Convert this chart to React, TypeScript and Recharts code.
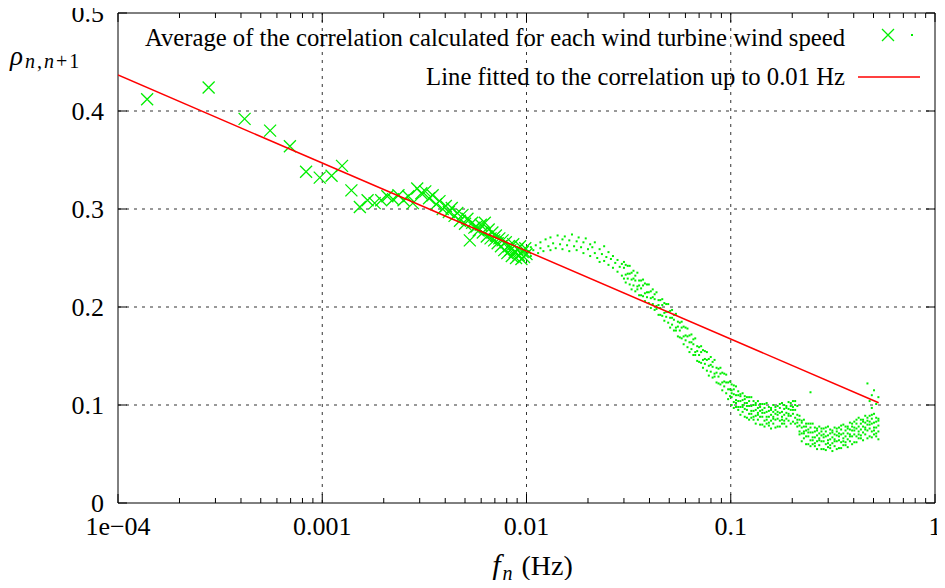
import React from 'react';
import { ScatterChart, Scatter, XAxis, YAxis, ReferenceLine, ReferenceArea, Legend } from 'recharts';

// f_n in Hz for the averaged harmonics (crosses), up to 0.01 Hz
const CROSS_F = [
  0.0001389, 0.0002778, 0.0004167, 0.0005556, 0.0006944, 0.0008333, 0.0009722, 0.001111, 0.00125, 0.001389,
  0.001528, 0.001667, 0.001806, 0.001944, 0.002083, 0.002222, 0.002361, 0.0025, 0.002639, 0.002778,
  0.002917, 0.003056, 0.003194, 0.003333, 0.003472, 0.003611, 0.00375, 0.003889, 0.004028, 0.004167,
  0.004306, 0.004444, 0.004583, 0.004722, 0.004861, 0.005, 0.005139, 0.005278, 0.005417, 0.005556,
  0.005694, 0.005833, 0.005972, 0.006111, 0.00625, 0.006389, 0.006528, 0.006667, 0.006806, 0.006944,
  0.007083, 0.007222, 0.007361, 0.0075, 0.007639, 0.007778, 0.007917, 0.008056, 0.008194, 0.008333,
  0.008472, 0.008611, 0.00875, 0.008889, 0.009028, 0.009167, 0.009306, 0.009444, 0.009583, 0.009722,
  0.009861, 0.01,
];
const CROSS_RHO = [
  0.412, 0.424, 0.392, 0.380, 0.364, 0.338, 0.332, 0.334, 0.344, 0.319,
  0.302, 0.309, 0.306, 0.309, 0.313, 0.310, 0.314, 0.309, 0.313, 0.306,
  0.321, 0.316, 0.318, 0.311, 0.314, 0.305, 0.308, 0.300, 0.303, 0.297,
  0.301, 0.293, 0.296, 0.288, 0.294, 0.285, 0.290, 0.268, 0.286, 0.281,
  0.282, 0.278, 0.284, 0.276, 0.286, 0.272, 0.279, 0.270, 0.276, 0.268,
  0.273, 0.265, 0.270, 0.262, 0.268, 0.258, 0.266, 0.255, 0.262, 0.258,
  0.252, 0.264, 0.256, 0.250, 0.259, 0.253, 0.262, 0.249, 0.256, 0.251,
  0.260, 0.254,
];

// per-frequency correlation (dots): [f, rho values read around that f]
const DOT_ROWS: number[][] = [
  [0.0102, 0.257], [0.0105, 0.252, 0.261], [0.0108, 0.258], [0.0111, 0.263], [0.0114, 0.255],
  [0.0117, 0.260, 0.266], [0.0121, 0.257], [0.0124, 0.269], [0.0128, 0.262], [0.0131, 0.258, 0.271],
  [0.0135, 0.265], [0.0139, 0.260], [0.0142, 0.273], [0.0146, 0.264], [0.015, 0.259, 0.269],
  [0.0154, 0.272], [0.0158, 0.263], [0.0162, 0.268, 0.257], [0.0167, 0.274], [0.0171, 0.262],
  [0.0176, 0.267, 0.258], [0.018, 0.271], [0.0185, 0.261], [0.019, 0.266, 0.255], [0.0195, 0.270],
  [0.02, 0.259], [0.0205, 0.264, 0.252], [0.021, 0.261], [0.0216, 0.255, 0.266], [0.0222, 0.250],
  [0.0228, 0.259, 0.246], [0.0234, 0.254], [0.024, 0.262, 0.247], [0.0246, 0.251], [0.0252, 0.243, 0.256],
  [0.0259, 0.249], [0.0265, 0.240, 0.252], [0.0272, 0.245], [0.0279, 0.236, 0.248], [0.0286, 0.241],
  [0.0293, 0.232, 0.244],
  [0.0300, 0.240, 0.229, 0.246], [0.0306, 0.233, 0.243, 0.225], [0.0313, 0.242, 0.229, 0.234],
  [0.0320, 0.223, 0.234, 0.242], [0.0327, 0.235, 0.218, 0.228], [0.0334, 0.222, 0.237, 0.229],
  [0.0341, 0.227, 0.216, 0.232], [0.0349, 0.235, 0.221, 0.218], [0.0356, 0.212, 0.227, 0.222],
  [0.0364, 0.227, 0.219, 0.212], [0.0372, 0.222, 0.211, 0.228], [0.0380, 0.214, 0.224, 0.206],
  [0.0389, 0.223, 0.210, 0.215], [0.0397, 0.204, 0.215, 0.223], [0.0406, 0.216, 0.199, 0.209],
  [0.0415, 0.203, 0.218, 0.210], [0.0424, 0.208, 0.197, 0.213], [0.0433, 0.215, 0.201, 0.198],
  [0.0443, 0.192, 0.207, 0.202], [0.0452, 0.207, 0.199, 0.192], [0.0462, 0.202, 0.191, 0.208],
  [0.0473, 0.194, 0.204, 0.186], [0.0483, 0.203, 0.190, 0.195], [0.0494, 0.184, 0.195, 0.203],
  [0.0505, 0.196, 0.179, 0.189], [0.0516, 0.182, 0.197, 0.189], [0.0527, 0.187, 0.176, 0.192],
  [0.0539, 0.193, 0.179, 0.176], [0.0551, 0.170, 0.185, 0.180], [0.0563, 0.184, 0.176, 0.169],
  [0.0575, 0.179, 0.168, 0.185], [0.0588, 0.170, 0.180, 0.162], [0.0601, 0.179, 0.166, 0.171],
  [0.0614, 0.159, 0.170, 0.178], [0.0628, 0.171, 0.154, 0.164], [0.0642, 0.157, 0.172, 0.164],
  [0.0656, 0.162, 0.151, 0.167], [0.0670, 0.168, 0.154, 0.151], [0.0685, 0.145, 0.160, 0.155],
  [0.0700, 0.159, 0.151, 0.144], [0.0716, 0.154, 0.143, 0.160], [0.0731, 0.146, 0.156, 0.138],
  [0.0747, 0.155, 0.142, 0.147], [0.0764, 0.135, 0.146, 0.154], [0.0781, 0.147, 0.130, 0.140],
  [0.0798, 0.134, 0.149, 0.141], [0.0815, 0.139, 0.128, 0.144], [0.0833, 0.146, 0.132, 0.129],
  [0.0852, 0.123, 0.138, 0.133], [0.0871, 0.137, 0.129, 0.122], [0.0890, 0.132, 0.121, 0.138],
  [0.0909, 0.123, 0.133, 0.115], [0.0929, 0.132, 0.119, 0.124], [0.0950, 0.112, 0.123, 0.131],
  [0.0971, 0.123, 0.106, 0.116], [0.0992, 0.109, 0.124, 0.116],
  [0.1010, 0.121, 0.108, 0.115, 0.100, 0.112], [0.1035, 0.103, 0.116, 0.097, 0.111, 0.120],
  [0.1061, 0.110, 0.098, 0.119, 0.105, 0.102], [0.1088, 0.095, 0.110, 0.104, 0.114, 0.098],
  [0.1115, 0.111, 0.098, 0.104, 0.090, 0.109], [0.1143, 0.098, 0.112, 0.093, 0.105, 0.100],
  [0.1171, 0.106, 0.088, 0.109, 0.096, 0.102], [0.1200, 0.108, 0.095, 0.102, 0.087, 0.099],
  [0.1230, 0.091, 0.104, 0.085, 0.099, 0.108], [0.1261, 0.099, 0.087, 0.108, 0.094, 0.091],
  [0.1293, 0.085, 0.100, 0.094, 0.104, 0.088], [0.1325, 0.102, 0.089, 0.095, 0.081, 0.100],
  [0.1358, 0.090, 0.104, 0.085, 0.097, 0.092], [0.1392, 0.098, 0.080, 0.101, 0.088, 0.094],
  [0.1427, 0.101, 0.088, 0.095, 0.080, 0.092], [0.1463, 0.084, 0.097, 0.078, 0.092, 0.101],
  [0.1499, 0.093, 0.081, 0.102, 0.088, 0.085], [0.1537, 0.079, 0.094, 0.088, 0.098, 0.082],
  [0.1575, 0.097, 0.084, 0.090, 0.076, 0.095], [0.1615, 0.086, 0.100, 0.081, 0.093, 0.088],
  [0.1655, 0.095, 0.077, 0.098, 0.085, 0.091], [0.1696, 0.099, 0.086, 0.093, 0.078, 0.090],
  [0.1739, 0.084, 0.097, 0.078, 0.092, 0.101], [0.1782, 0.093, 0.081, 0.102, 0.088, 0.085],
  [0.1827, 0.081, 0.096, 0.090, 0.100, 0.084], [0.1872, 0.099, 0.086, 0.092, 0.078, 0.097],
  [0.1919, 0.089, 0.103, 0.084, 0.096, 0.091], [0.1967, 0.099, 0.081, 0.102, 0.089, 0.095],
  [0.2016, 0.104, 0.091, 0.098, 0.083, 0.095], [0.2067, 0.087, 0.100, 0.081, 0.095, 0.104],
  [0.2118, 0.090, 0.078, 0.099, 0.085, 0.082], [0.2171, 0.070, 0.085, 0.079, 0.089, 0.073],
  [0.2226, 0.084, 0.071, 0.077, 0.063, 0.082], [0.2281, 0.071, 0.085, 0.066, 0.078, 0.073],
  [0.2338, 0.078, 0.060, 0.081, 0.068, 0.074], [0.2397, 0.081, 0.068, 0.075, 0.060, 0.072],
  [0.2457, 0.064, 0.077, 0.058, 0.072, 0.081, 0.113], [0.2518, 0.072, 0.060, 0.081, 0.067, 0.064],
  [0.2581, 0.058, 0.073, 0.067, 0.077, 0.061], [0.2646, 0.076, 0.063, 0.069, 0.055, 0.074],
  [0.2712, 0.064, 0.078, 0.059, 0.071, 0.066], [0.2780, 0.073, 0.055, 0.076, 0.063, 0.069],
  [0.2849, 0.076, 0.063, 0.070, 0.055, 0.067], [0.2920, 0.060, 0.073, 0.054, 0.068, 0.077],
  [0.2993, 0.069, 0.057, 0.078, 0.064, 0.061], [0.3068, 0.056, 0.071, 0.065, 0.075, 0.059],
  [0.3145, 0.074, 0.061, 0.067, 0.053, 0.072], [0.3224, 0.063, 0.077, 0.058, 0.070, 0.065],
  [0.3304, 0.073, 0.055, 0.076, 0.063, 0.069], [0.3387, 0.077, 0.064, 0.071, 0.056, 0.068],
  [0.3471, 0.062, 0.075, 0.056, 0.070, 0.079], [0.3558, 0.071, 0.059, 0.080, 0.066, 0.063],
  [0.3647, 0.059, 0.074, 0.068, 0.078, 0.062], [0.3738, 0.078, 0.065, 0.071, 0.057, 0.076],
  [0.3832, 0.068, 0.082, 0.063, 0.075, 0.070], [0.3928, 0.078, 0.060, 0.081, 0.068, 0.074],
  [0.4026, 0.083, 0.070, 0.077, 0.062, 0.074], [0.4126, 0.068, 0.081, 0.062, 0.076, 0.085],
  [0.4229, 0.078, 0.066, 0.087, 0.073, 0.070], [0.4335, 0.066, 0.081, 0.075, 0.085, 0.069],
  [0.4444, 0.085, 0.072, 0.078, 0.064, 0.083], [0.4555, 0.075, 0.089, 0.070, 0.082, 0.077],
  [0.4669, 0.084, 0.066, 0.087, 0.074, 0.080, 0.122], [0.4786, 0.089, 0.076, 0.083, 0.068, 0.080, 0.104],
  [0.4905, 0.073, 0.086, 0.067, 0.081, 0.090, 0.110, 0.097], [0.5028, 0.082, 0.070, 0.091, 0.077, 0.074, 0.115],
  [0.5154, 0.068, 0.083, 0.077, 0.087, 0.071, 0.101], [0.5283, 0.086, 0.073, 0.079, 0.065, 0.084, 0.108],
];

// least-squares line fitted up to 0.01 Hz, drawn across the data range
const FIT_F = [0.0001, 0.53];
const FIT_RHO = [0.4367, 0.1023];

const X_MAJOR = [0.0001, 0.001, 0.01, 0.1, 1];
const X_LABELS = ['1e\u221204', '0.001', '0.01', '0.1', '1'];
const X_MINOR = [
  0.0002, 0.0003, 0.0004, 0.0005, 0.0006, 0.0007, 0.0008, 0.0009,
  0.002, 0.003, 0.004, 0.005, 0.006, 0.007, 0.008, 0.009,
  0.02, 0.03, 0.04, 0.05, 0.06, 0.07, 0.08, 0.09,
  0.2, 0.3, 0.4, 0.5, 0.6, 0.7, 0.8, 0.9,
];
const Y_TICKS = [0, 0.1, 0.2, 0.3, 0.4, 0.5];

const LEGEND_DOTS = 'Average of the correlation calculated for each wind turbine wind speed';
const LEGEND_FIT = 'Line fitted to the correlation up to 0.01 Hz';

const FONT = '"Liberation Serif", "Times New Roman", serif';
const GREEN = '#00ee00';
const RED = '#ff0000';
const W = 945;
const H = 588;
const PL = 118;
const PW = 817;
const PH = 490;

const crossData = CROSS_F.map((f, i) => ({ f, v: CROSS_RHO[i] }));
const dotData = DOT_ROWS.flatMap(([f, ...vals]) => vals.map(v => ({ f, v })));
const fitData = FIT_F.map((f, i) => ({ f, v: FIT_RHO[i] }));

const CrossShape = (p: any) => {
  const { cx, cy } = p;
  const s = 6;
  return (
    <path
      d={`M${cx - s},${cy - s}L${cx + s},${cy + s}M${cx - s},${cy + s}L${cx + s},${cy - s}`}
      stroke={GREEN}
      strokeWidth={1.3}
      fill="none"
    />
  );
};

const DotShape = (p: any) => <rect x={p.cx - 1} y={p.cy - 1} width={2} height={2} fill={GREEN} />;

const NoShape = () => <g />;

function XTick(props: any) {
  const { x, y, payload } = props;
  const idx = X_MAJOR.indexOf(payload.value);
  const len = idx >= 0 ? 9 : 5;
  return (
    <g>
      <line x1={x} y1={y} x2={x} y2={y - len} stroke="#000" />
      <line x1={x} y1={y - PH} x2={x} y2={y - PH + len} stroke="#000" />
      {idx >= 0 && (
        <text x={x} y={y + 32} textAnchor="middle" fontSize={26} fontFamily={FONT} fill="#000">
          {X_LABELS[idx]}
        </text>
      )}
    </g>
  );
}

function YTick(props: any) {
  const { x, y, payload } = props;
  return (
    <g>
      <line x1={x} y1={y} x2={x + 9} y2={y} stroke="#000" />
      <line x1={x + PW - 9} y1={y} x2={x + PW} y2={y} stroke="#000" />
      <text x={x - 14} y={y + 9} textAnchor="end" fontSize={26} fontFamily={FONT} fill="#000">
        {String(payload.value)}
      </text>
    </g>
  );
}

function KeyBox() {
  return (
    <div style={{ position: 'relative', width: W, height: 70, fontFamily: FONT, fontSize: 24.7, color: '#000' }}>
      <div style={{ position: 'absolute', right: 100, top: 0, lineHeight: '30px', whiteSpace: 'nowrap' }}>
        {LEGEND_DOTS}
      </div>
      <div style={{ position: 'absolute', right: 100, top: 39, lineHeight: '30px', whiteSpace: 'nowrap' }}>
        {LEGEND_FIT}
      </div>
      <svg width={W} height={70} style={{ position: 'absolute', left: 0, top: 0 }}>
        <path d="M882,6L894,18M882,18L894,6" stroke={GREEN} strokeWidth={1.3} fill="none" />
        <rect x={911} y={11} width={2} height={2} fill={GREEN} />
        <line x1={858} y1={54} x2={920} y2={54} stroke={RED} strokeWidth={1.5} />
      </svg>
    </div>
  );
}

export default function App() {
  return (
    <div style={{ position: 'relative', width: W, height: H, margin: '-8px 0 -8px -8px', fontFamily: FONT }}>
      <ScatterChart width={W} height={H} margin={{ top: 13, right: 10, left: 0, bottom: 0 }}>
        <XAxis
          type="number"
          dataKey="f"
          scale="log"
          domain={[0.0001, 1]}
          allowDataOverflow
          ticks={[...X_MAJOR, ...X_MINOR]}
          interval={0}
          tick={<XTick />}
          tickLine={false}
          axisLine={false}
          tickSize={0}
          tickMargin={0}
          height={85}
        />
        <YAxis
          type="number"
          dataKey="v"
          domain={[0, 0.5]}
          ticks={Y_TICKS}
          interval={0}
          tick={<YTick />}
          tickLine={false}
          axisLine={false}
          tickSize={0}
          tickMargin={0}
          width={PL}
        />
        {X_MAJOR.slice(1, 4).map(x => (
          <ReferenceLine key={'gx' + x} x={x} stroke="#333" strokeDasharray="3 5" />
        ))}
        {Y_TICKS.slice(1, 5).map(y => (
          <ReferenceLine key={'gy' + y} y={y} stroke="#333" strokeDasharray="3 5" />
        ))}
        <ReferenceArea x1={0.0001} x2={1} y1={0} y2={0.5} fill="none" stroke="#000" strokeWidth={1} />
        <Scatter data={dotData} shape={DotShape} isAnimationActive={false} />
        <Scatter data={crossData} shape={CrossShape} isAnimationActive={false} />
        <Scatter data={fitData} shape={NoShape} line={{ stroke: RED, strokeWidth: 1.5 }} isAnimationActive={false} />
        <Legend
          layout="horizontal"
          verticalAlign="middle"
          align="center"
          content={() => <KeyBox />}
          wrapperStyle={{ top: 23, left: 0, width: W }}
        />
      </ScatterChart>
      <div style={{ position: 'absolute', left: 10, top: 41, fontSize: 27, lineHeight: '30px', whiteSpace: 'nowrap' }}>
        <i>ρ</i>
        <span style={{ fontSize: 20, letterSpacing: 2, position: 'relative', top: 3, marginLeft: 2 }}>
          <i>n</i>,<i>n</i>+1
        </span>
      </div>
      <div
        style={{
          position: 'absolute', left: PL, width: PW, top: 550, paddingLeft: 6,
          fontSize: 28, lineHeight: '30px', textAlign: 'center', whiteSpace: 'nowrap',
        }}
      >
        <i style={{ fontSize: 30 }}>f</i>
        <span style={{ fontSize: 20, position: 'relative', top: 5, marginLeft: 2 }}>
          <i>n</i>
        </span>
        <span style={{ marginLeft: 9 }}>(Hz)</span>
      </div>
    </div>
  );
}
